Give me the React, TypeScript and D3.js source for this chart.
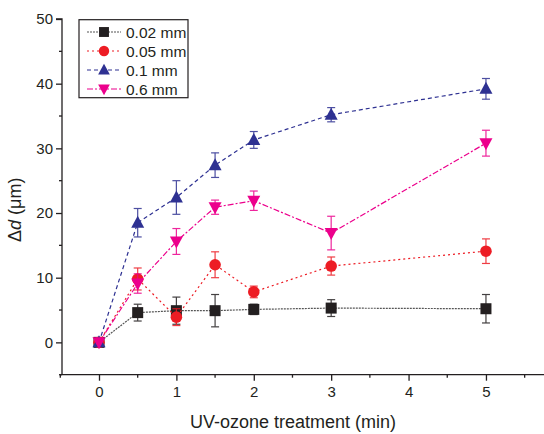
import React, { useEffect, useRef } from "react";
import * as d3 from "d3";

// treatment times (min)
const times = [0, 0.5, 1, 1.5, 2, 3, 5];

const seriesNames = ["0.02 mm", "0.05 mm", "0.1 mm", "0.6 mm"];

const d002 = [0, 4.6, 4.9, 4.9, 5.1, 5.3, 5.2];
const e002 = [0, 1.3, 2.1, 2.5, 0.8, 1.3, 2.2];

const d005 = [0, 9.8, 3.9, 12.0, 7.8, 11.8, 14.1];
const e005 = [0, 1.7, 1.3, 2.0, 0.9, 1.4, 1.9];

const d01 = [0, 18.5, 22.4, 27.4, 31.3, 35.2, 39.2];
const e01 = [0, 2.2, 2.6, 1.9, 1.3, 1.1, 1.6];

const d06 = [0, 9.1, 15.6, 20.9, 21.9, 16.9, 30.8];
const e06 = [0, 1.5, 2.0, 1.1, 1.5, 2.6, 2.0];

const xTicks = [0, 1, 2, 3, 4, 5];
const yTicks = [0, 10, 20, 30, 40, 50];

const colors = ["#231f20", "#ed1c24", "#2e3192", "#ec008c"];
const lineColors = ["#555555", "#ed1c24", "#2e3192", "#ec008c"];
const dashes = ["2,1", "2,3", "4,3", "6,2,2,2"];
const symbols = ["square", "circle", "up", "down"];

export default function App() {
  const ref = useRef<SVGSVGElement>(null);

  useEffect(() => {
    const svg = d3.select(ref.current);
    svg.selectAll("*").remove();

    const font = "Liberation Sans, Arial, sans-serif";
    const x = d3.scaleLinear().domain([-0.5, 5.75]).range([60.3, 544]);
    const y = d3.scaleLinear().domain([-5, 50]).range([374.7, 19]);

    const g = svg.append("g");

    // y axis
    const yAxis = d3
      .axisLeft(y)
      .tickValues(yTicks)
      .tickSize(6)
      .tickPadding(3)
      .tickFormat(d3.format("d"));
    const ya = g.append("g").attr("transform", "translate(62,0)").call(yAxis);
    ya.select(".domain").attr("stroke", "#231f20").attr("stroke-width", 1.3).attr("d", `M0,${y(-5)}V${y(50)}H-6`);
    ya.selectAll(".tick line").attr("stroke", "#231f20").attr("stroke-width", 1.3);
    ya.selectAll(".tick text").attr("font-family", font).attr("font-size", 15).attr("fill", "#231f20");
    // minor ticks
    g.selectAll(".yminor")
      .data([-5, 5, 15, 25, 35, 45])
      .enter()
      .append("line")
      .attr("x1", 59)
      .attr("x2", 62)
      .attr("y1", (d) => y(d))
      .attr("y2", (d) => y(d))
      .attr("stroke", "#231f20")
      .attr("stroke-width", 1.3);

    // x axis
    const xAxis = d3.axisBottom(x).tickValues(xTicks).tickSize(6).tickPadding(6).tickFormat(d3.format("d"));
    const xa = g.append("g").attr("transform", `translate(0,${y(-5)})`).call(xAxis);
    xa.select(".domain").attr("stroke", "#231f20").attr("stroke-width", 1.3).attr("d", `M${x(-0.5)},0H544`);
    xa.selectAll(".tick line").attr("stroke", "#231f20").attr("stroke-width", 1.3);
    xa.selectAll(".tick text").attr("font-family", font).attr("font-size", 15).attr("fill", "#231f20");
    g.selectAll(".xminor")
      .data([-0.5, 0.5, 1.5, 2.5, 3.5, 4.5, 5.5])
      .enter()
      .append("line")
      .attr("x1", (d) => x(d))
      .attr("x2", (d) => x(d))
      .attr("y1", y(-5))
      .attr("y2", y(-5) + 3)
      .attr("stroke", "#231f20")
      .attr("stroke-width", 1.3);

    // axis titles
    g.append("text")
      .attr("x", 293)
      .attr("y", 428)
      .attr("text-anchor", "middle")
      .attr("font-family", font)
      .attr("font-size", 18)
      .attr("fill", "#231f20")
      .text("UV-ozone treatment (min)");
    const yt = g
      .append("text")
      .attr("transform", `translate(21,${y(20.5)}) rotate(-90)`)
      .attr("text-anchor", "middle")
      .attr("font-family", font)
      .attr("font-size", 18)
      .attr("fill", "#231f20");
    yt.append("tspan").text("Δ");
    yt.append("tspan").attr("font-style", "italic").text("d");
    yt.append("tspan").text(" (μm)");

    const means = [d002, d005, d01, d06];
    const errs = [e002, e005, e01, e06];

    function drawSymbol(sel: any, kind: string, color: string) {
      if (kind === "square") {
        sel.append("rect").attr("x", -5.5).attr("y", -5.5).attr("width", 11).attr("height", 11).attr("fill", color);
      } else if (kind === "circle") {
        sel.append("circle").attr("r", 5.8).attr("fill", color);
      } else if (kind === "up") {
        sel.append("path").attr("d", "M0,-7L6.5,5L-6.5,5Z").attr("fill", color);
      } else {
        sel.append("path").attr("d", "M0,7L6.5,-5L-6.5,-5Z").attr("fill", color);
      }
    }

    const line = d3
      .line<number>()
      .x((d, i) => x(times[i]))
      .y((d) => y(d));

    means.forEach((vals, s) => {
      const sg = g.append("g");
      sg.append("path")
        .attr("d", line(vals))
        .attr("fill", "none")
        .attr("stroke", lineColors[s])
        .attr("stroke-width", 1.2)
        .attr("stroke-dasharray", dashes[s]);
      // error bars
      vals.forEach((v, i) => {
        const e = errs[s][i];
        if (e <= 0) return;
        const cx = x(times[i]);
        const eg = sg.append("g").attr("stroke", colors[s]).attr("stroke-width", 1.2).attr("opacity", 0.85);
        eg.append("line").attr("x1", cx).attr("x2", cx).attr("y1", y(v - e)).attr("y2", y(v + e));
        eg.append("line").attr("x1", cx - 4).attr("x2", cx + 4).attr("y1", y(v - e)).attr("y2", y(v - e));
        eg.append("line").attr("x1", cx - 4).attr("x2", cx + 4).attr("y1", y(v + e)).attr("y2", y(v + e));
      });
      vals.forEach((v, i) => {
        const mg = sg.append("g").attr("transform", `translate(${x(times[i])},${y(v)})`);
        drawSymbol(mg, symbols[s], colors[s]);
      });
    });

    // legend
    const lg = g.append("g");
    lg.append("rect")
      .attr("x", 79)
      .attr("y", 19.7)
      .attr("width", 109)
      .attr("height", 78)
      .attr("fill", "white")
      .attr("stroke", "#231f20")
      .attr("stroke-width", 1.2);
    seriesNames.forEach((name, s) => {
      const ly = 32 + s * 19;
      lg.append("line")
        .attr("x1", 87)
        .attr("x2", 121)
        .attr("y1", ly)
        .attr("y2", ly)
        .attr("stroke", lineColors[s])
        .attr("stroke-width", 1.2)
        .attr("stroke-dasharray", dashes[s]);
      const mg = lg.append("g").attr("transform", `translate(104,${ly}) scale(0.9)`);
      drawSymbol(mg, symbols[s], colors[s]);
      lg.append("text")
        .attr("x", 126)
        .attr("y", ly + 5.5)
        .attr("font-family", font)
        .attr("font-size", 15.5)
        .attr("fill", "#231f20")
        .text(name);
    });
  }, []);

  return (
    <svg
      ref={ref}
      width={544}
      height={434}
      style={{ position: "absolute", left: 0, top: 0, background: "white" }}
    />
  );
}
